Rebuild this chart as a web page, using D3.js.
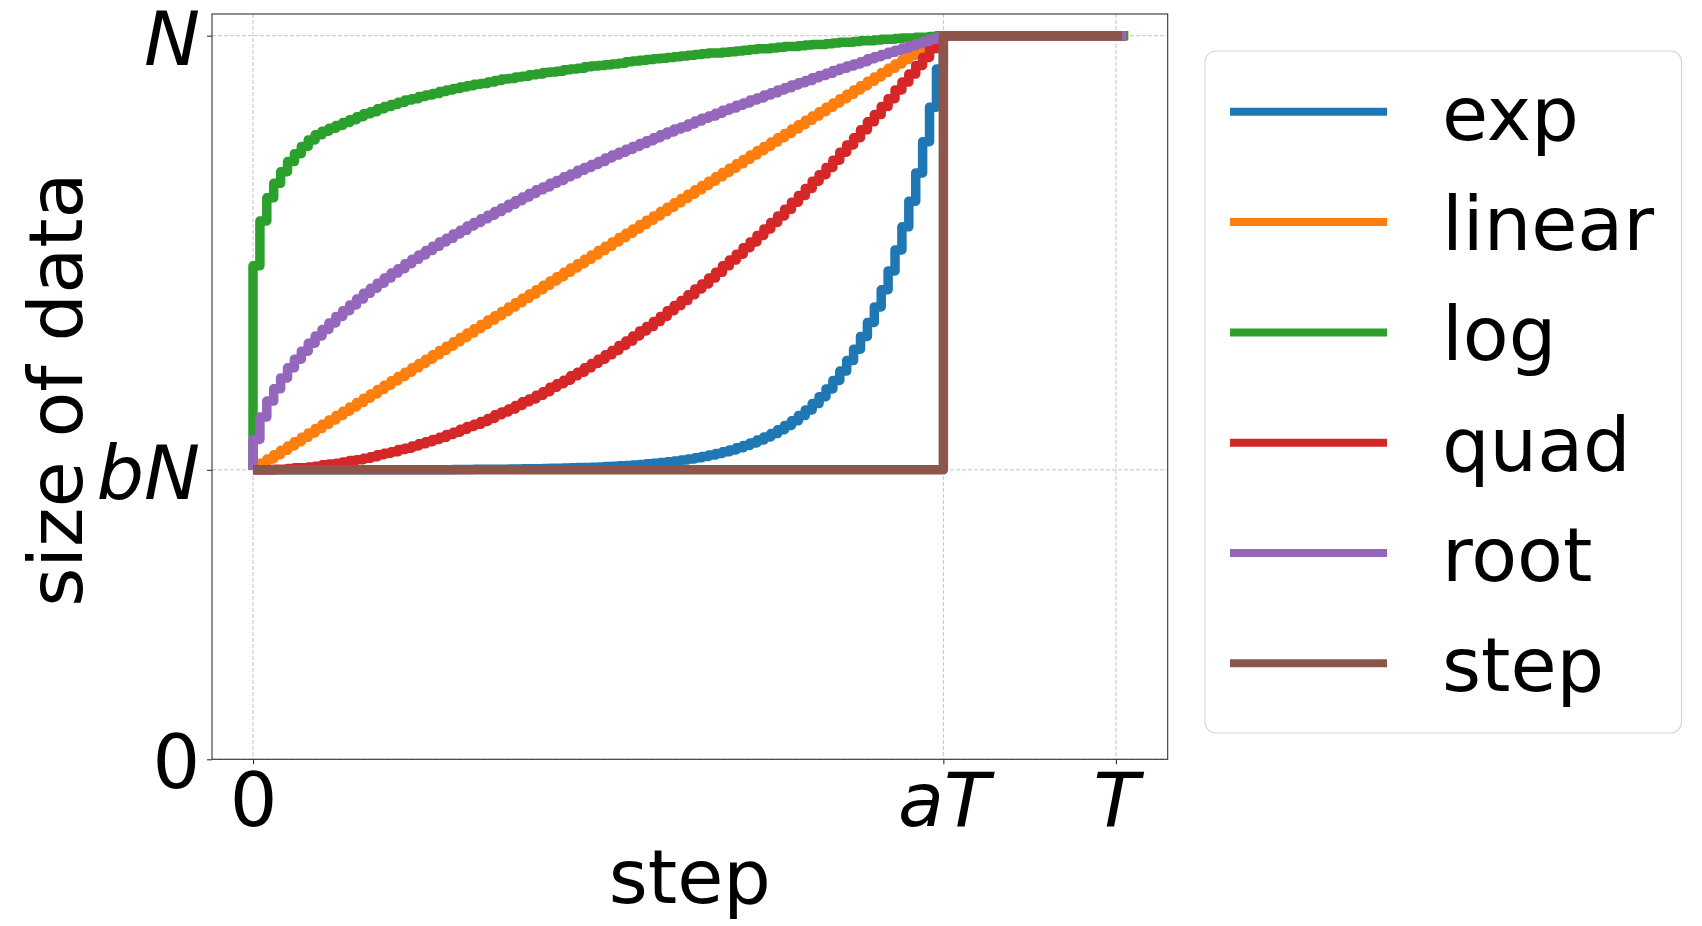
<!DOCTYPE html>
<html><head><meta charset="utf-8">
<script src="https://cdn.jsdelivr.net/npm/d3@7"></script>
<style>body{margin:0;background:#fff}svg{display:block}text{font-family:"DejaVu Sans",sans-serif}</style>
</head><body><svg id="c" width="1702" height="926"></svg>
<script>
// ---------------- data ----------------
const seriesNames  = ["exp","linear","log","quad","root","step"];
const seriesColors = ["#1f77b4","#ff7f0e","#2ca02c","#d62728","#9467bd","#8c564b"];
const startFrac = 0.4;          // bN
const endFrac = 1.0;            // N
const aT = 100, T = 125;        // step units
const xTickValues = [0, 100, 125];
const xTickLabels = ["0", "aT", "T"];
const yTickValues = [0, 0.4, 1];
const yTickLabels = ["0", "bN", "N"];
const lastStep = [126.5, 126.5, 126.8, 126.5, 126.5, 125.9];

// value held on each step interval [k, k+1), k = 0..99
const expVals = [
0.4,0.4,0.4,0.4,0.4,0.4,0.4,0.4,0.4,0.4,
0.4,0.4,0.4,0.4,0.4,0.4,0.4,0.4,0.4,0.4,
0.4,0.4,0.4,0.4,0.4,0.4,0.4,0.4,0.4,0.4005,
0.4006,0.4006,0.4007,0.4008,0.4008,0.4009,0.4010,0.4011,0.4012,0.4014,
0.4015,0.4017,0.4019,0.4021,0.4023,0.4025,0.4028,0.4031,0.4034,0.4037,
0.4041,0.4046,0.4050,0.4056,0.4062,0.4068,0.4075,0.4083,0.4092,0.4101,
0.4112,0.4124,0.4137,0.4151,0.4167,0.4185,0.4204,0.4226,0.4250,0.4276,
0.4305,0.4337,0.4372,0.4411,0.4455,0.4502,0.4555,0.4614,0.4678,0.4750,
0.4828,0.4916,0.5012,0.5118,0.5236,0.5366,0.5510,0.5668,0.5844,0.6038,
0.6252,0.6489,0.6750,0.7040,0.7359,0.7713,0.8103,0.8535,0.9012,0.9539];
const linearVals = [
0.403,0.409,0.415,0.421,0.427,0.433,0.439,0.445,0.451,0.457,
0.463,0.469,0.475,0.481,0.487,0.493,0.499,0.505,0.511,0.517,
0.523,0.529,0.535,0.541,0.547,0.553,0.559,0.565,0.571,0.577,
0.583,0.589,0.595,0.601,0.607,0.613,0.619,0.625,0.631,0.637,
0.643,0.649,0.655,0.661,0.667,0.673,0.679,0.685,0.691,0.697,
0.703,0.709,0.715,0.721,0.727,0.733,0.739,0.745,0.751,0.757,
0.763,0.769,0.775,0.781,0.787,0.793,0.799,0.805,0.811,0.817,
0.823,0.829,0.835,0.841,0.847,0.853,0.859,0.865,0.871,0.877,
0.883,0.889,0.895,0.901,0.907,0.913,0.919,0.925,0.931,0.937,
0.943,0.949,0.955,0.961,0.967,0.973,0.979,0.985,0.991,0.997];
const logVals = [
0.682,0.744,0.776,0.796,0.812,0.826,0.837,0.847,0.856,0.863,
0.868,0.872,0.876,0.880,0.884,0.888,0.892,0.895,0.899,0.902,
0.905,0.908,0.911,0.913,0.916,0.918,0.920,0.923,0.925,0.927,
0.929,0.931,0.933,0.934,0.936,0.938,0.940,0.941,0.943,0.944,
0.946,0.947,0.949,0.950,0.951,0.953,0.954,0.955,0.957,0.958,
0.959,0.960,0.961,0.962,0.964,0.965,0.966,0.967,0.968,0.969,
0.970,0.971,0.972,0.973,0.974,0.975,0.976,0.976,0.977,0.978,
0.979,0.980,0.981,0.982,0.982,0.983,0.984,0.985,0.985,0.986,
0.987,0.988,0.988,0.989,0.990,0.991,0.991,0.992,0.993,0.993,
0.994,0.995,0.995,0.996,0.997,0.997,0.998,0.998,0.999,1.000];
const quadVals = [
0.400,0.400,0.400,0.401,0.401,0.402,0.403,0.403,0.404,0.405,
0.407,0.408,0.409,0.411,0.413,0.414,0.416,0.418,0.421,0.423,
0.425,0.428,0.430,0.433,0.436,0.439,0.442,0.445,0.449,0.452,
0.456,0.460,0.463,0.467,0.471,0.476,0.480,0.484,0.489,0.494,
0.498,0.503,0.508,0.514,0.519,0.524,0.530,0.535,0.541,0.547,
0.553,0.559,0.565,0.572,0.578,0.585,0.592,0.598,0.605,0.612,
0.620,0.627,0.634,0.642,0.650,0.657,0.665,0.673,0.682,0.690,
0.698,0.707,0.715,0.724,0.733,0.742,0.751,0.760,0.770,0.779,
0.789,0.799,0.808,0.818,0.828,0.839,0.849,0.859,0.870,0.881,
0.891,0.902,0.913,0.925,0.936,0.947,0.959,0.970,0.982,0.994];
const rootVals = [
0.442,0.473,0.495,0.512,0.527,0.541,0.553,0.564,0.575,0.585,
0.594,0.603,0.612,0.620,0.628,0.636,0.644,0.651,0.658,0.665,
0.672,0.678,0.685,0.691,0.697,0.703,0.709,0.715,0.720,0.726,
0.731,0.737,0.742,0.747,0.752,0.757,0.762,0.767,0.772,0.777,
0.782,0.787,0.791,0.796,0.800,0.805,0.809,0.814,0.818,0.822,
0.826,0.831,0.835,0.839,0.843,0.847,0.851,0.855,0.859,0.863,
0.867,0.871,0.874,0.878,0.882,0.886,0.889,0.893,0.897,0.900,
0.904,0.907,0.911,0.914,0.918,0.921,0.925,0.928,0.932,0.935,
0.938,0.942,0.945,0.948,0.952,0.955,0.958,0.961,0.964,0.968,
0.971,0.974,0.977,0.980,0.983,0.986,0.989,0.992,0.995,0.998];
const stepKnotsX = [0, 100];
const stepKnotsY = [0.4, 1.0];

const chunkSeries = [expVals, linearVals, logVals, quadVals, rootVals];

// ---------------- layout ----------------
const W = 1702, H = 926;
const plot = {left: 212, right: 1167.7, top: 14, bottom: 759.3};
const FS = 75;
const LW = 9.5;

const svg = d3.select("#c");
svg.append("rect").attr("width", W).attr("height", H).attr("fill", "#fff");

const x = d3.scaleLinear().domain([-5.94, 132.5]).range([plot.left, plot.right]);
const y = d3.scaleLinear().domain([0, 1.03]).range([plot.bottom, plot.top]);

// grid
const grid = svg.append("g");
xTickValues.forEach(v => grid.append("line")
  .attr("x1", x(v)).attr("x2", x(v)).attr("y1", plot.top).attr("y2", plot.bottom)
  .attr("stroke", "#c4c4c4").attr("stroke-width", 1).attr("stroke-dasharray", "4,2"));
yTickValues.forEach(v => grid.append("line")
  .attr("y1", y(v)).attr("y2", y(v)).attr("x1", plot.left).attr("x2", plot.right)
  .attr("stroke", "#c4c4c4").attr("stroke-width", 1).attr("stroke-dasharray", "4,2"));

// clip
svg.append("clipPath").attr("id", "clip").append("rect")
  .attr("x", plot.left).attr("y", plot.top)
  .attr("width", plot.right - plot.left).attr("height", plot.bottom - plot.top);

const line = d3.line().x(d => x(d[0])).y(d => y(d[1])).curve(d3.curveStepAfter);
const lines = svg.append("g").attr("clip-path", "url(#clip)");

chunkSeries.forEach((vals, si) => {
  const pts = [[0, startFrac]];
  vals.forEach((v, k) => pts.push([k, v]));
  pts.push([aT, endFrac]);
  pts.push([lastStep[si], endFrac]);
  lines.append("path").attr("d", line(pts)).attr("fill", "none")
    .attr("stroke", seriesColors[si]).attr("stroke-width", LW)
    .attr("stroke-linejoin", "round").attr("stroke-linecap", "butt");
});
{
  const pts = stepKnotsX.map((s, i) => [s, stepKnotsY[i]]);
  pts.push([lastStep[5], endFrac]);
  lines.append("path").attr("d", line(pts)).attr("fill", "none")
    .attr("stroke", seriesColors[5]).attr("stroke-width", LW)
    .attr("stroke-linejoin", "round").attr("stroke-linecap", "butt");
}

// spines
svg.append("rect").attr("x", plot.left).attr("y", plot.top)
  .attr("width", plot.right - plot.left).attr("height", plot.bottom - plot.top)
  .attr("fill", "none").attr("stroke", "#333").attr("stroke-width", 1.1);

// axes
const xAxis = d3.axisBottom(x).tickValues(xTickValues)
  .tickFormat((d, i) => xTickLabels[i]).tickSize(4.9).tickPadding(8.5);
const gx = svg.append("g").attr("transform", `translate(0,${plot.bottom})`).call(xAxis);
gx.select(".domain").remove();
gx.selectAll("line").attr("stroke", "#333").attr("stroke-width", 1.1);
gx.selectAll("text").attr("font-size", FS).attr("fill", "#000")
  .attr("font-family", "DejaVu Sans")
  .attr("font-style", (d, i) => xTickLabels[i] === "0" ? "normal" : "italic");

const yAxis = d3.axisLeft(y).tickValues(yTickValues)
  .tickFormat((d, i) => yTickLabels[i]).tickSize(4.9).tickPadding(7);
const gy = svg.append("g").attr("transform", `translate(${plot.left},0)`).call(yAxis);
gy.select(".domain").remove();
gy.selectAll("line").attr("stroke", "#333").attr("stroke-width", 1.1);
gy.selectAll("text").attr("font-size", FS).attr("fill", "#000").attr("dy", "0.38em")
  .attr("font-family", "DejaVu Sans")
  .attr("font-style", (d, i) => yTickLabels[i] === "0" ? "normal" : "italic");

// axis titles
svg.append("text").attr("x", (plot.left + plot.right) / 2).attr("y", 903)
  .attr("text-anchor", "middle").attr("font-size", FS).text("step");
svg.append("text").attr("transform", `translate(82,${(plot.top + plot.bottom) / 2 + 3}) rotate(-90)`)
  .attr("text-anchor", "middle").attr("font-size", FS).text("size of data");

// legend
const lg = svg.append("g");
lg.append("rect").attr("x", 1205).attr("y", 51).attr("width", 476.5).attr("height", 682)
  .attr("rx", 11).attr("fill", "#fff").attr("fill-opacity", 0.8)
  .attr("stroke", "#d6d6d6").attr("stroke-width", 1.1);
seriesNames.forEach((n, i) => {
  const yy = 111.8 + i * 110.3;
  lg.append("line").attr("x1", 1230).attr("x2", 1387).attr("y1", yy).attr("y2", yy)
    .attr("stroke", seriesColors[i]).attr("stroke-width", 8);
  lg.append("text").attr("x", 1442).attr("y", yy + 28).attr("font-size", FS).text(n);
});
</script></body></html>
